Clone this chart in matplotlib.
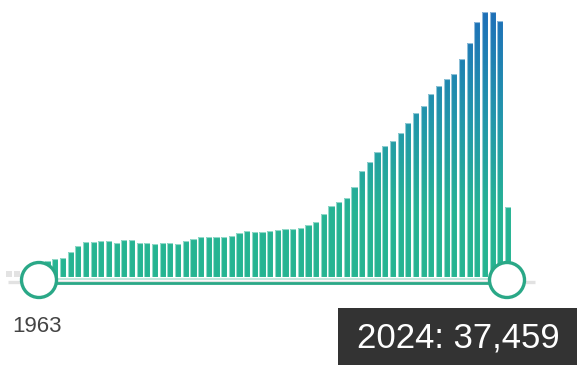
import numpy as np
import matplotlib
matplotlib.use("Agg")
import matplotlib.pyplot as plt
from matplotlib.colors import LinearSegmentedColormap
from matplotlib.patches import Circle, Rectangle
from matplotlib.path import Path

# yearly values 1963-2024
years = list(range(1963, 2025))
values = [8060, 8600, 9670, 10210, 13440, 16660, 18810, 18900, 19350, 19350,
          18270, 19880, 19880, 18540, 18430, 17570, 18110, 18110, 17730, 19180,
          20420, 21760, 21760, 21660, 21330, 22140, 23810, 24880, 24340, 24340,
          24880, 25260, 25630, 25800, 26170, 28160, 29660, 33590, 38260, 40300,
          42620, 48100, 57130, 61640, 67010, 70560, 73090, 77220, 82920, 88130,
          92060, 98180, 102640, 106570, 109090, 116990, 125590, 136870, 142250, 142250,
          137570, 37459]

# years left of the selected range (grey, mostly under the slider handle)
out_years = [1959, 1960, 1961, 1962]
out_values = [3000, 3000, 3000, 3000]

start_label = "1963"
tooltip = "2024: 37,459"

W, H = 577, 365
fig = plt.figure(figsize=(W / 100, H / 100), dpi=100)

# --- bars ---------------------------------------------------------
ax = fig.add_axes([0, 0, 1, 1])
pitch = 7.672          # px per year
x0_px, base_px = 40, 277
per_px = 537.4         # value per pixel
ax.axis("off")

ax.bar(out_years, out_values, width=0.8, color="#e3e3e3", zorder=1)

bars = ax.bar(years, values, width=0.8, color="none",
              edgecolor=(1, 1, 1, 0.5), linewidth=0.8, zorder=3)

cmap = LinearSegmentedColormap.from_list(
    "tealblue", [(0.0, "#27b592"), (0.25, "#26b394"), (0.6, "#2296ab"), (1.0, "#1e70b8")])
ymax = max(values)
grad = np.linspace(0, 1, 256).reshape(-1, 1)
img = ax.imshow(grad, cmap=cmap, origin="lower", aspect="auto",
                extent=(years[0] - 1, years[-1] + 1, 0, ymax), zorder=2)
paths = [b.get_path().transformed(b.get_patch_transform()) for b in bars]
clip = Path.make_compound_path(*paths)
img.set_clip_path(clip, ax.transData)
ax.set_xlim(years[0] - x0_px / pitch, years[0] + (W - x0_px) / pitch)
ax.set_ylim(-(H - base_px) * per_px, base_px * per_px)

# --- slider, label, tooltip (pixel coordinates) --------------------
ov = fig.add_axes([0, 0, 1, 1])
ov.set_xlim(0, W)
ov.set_ylim(H, 0)
ov.axis("off")
ov.patch.set_alpha(0)

ov.plot([8, 535], [281.5, 281.5], color="#e2e2e2", lw=2.4, solid_capstyle="butt", zorder=1)
ov.plot([40, 506], [279.2, 279.2], color="#b5e3d6", lw=1.2, solid_capstyle="butt", zorder=2)
ov.plot([40, 506], [282.7, 282.7], color="#2aa887", lw=2.0, solid_capstyle="butt", zorder=2)

for cx in (39, 507):
    ov.add_patch(Circle((cx, 280), 17.5, facecolor="white", edgecolor="#2aa887",
                        linewidth=2.4, zorder=5))

ov.text(37, 327, start_label, ha="center", va="center", fontsize=16,
        color="#444444", family="Liberation Sans")

ov.add_patch(Rectangle((338, 308), W - 338, H - 308, facecolor="#333333",
                       edgecolor="none", zorder=6))
ov.text(458, 338, tooltip, ha="center", va="center", fontsize=25,
        color="white", family="Liberation Sans", zorder=7)

fig.savefig("out.png", dpi=100)
